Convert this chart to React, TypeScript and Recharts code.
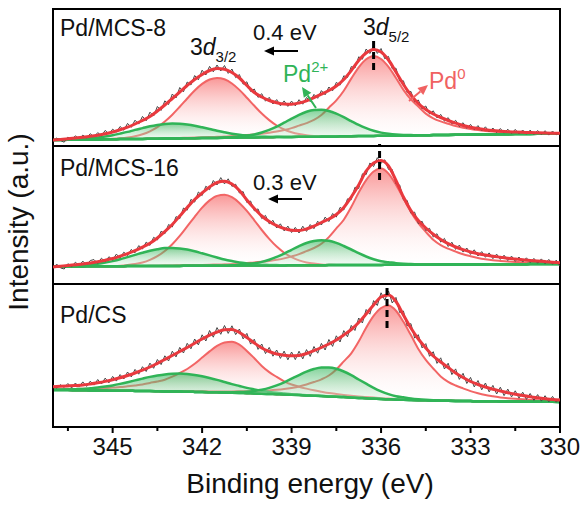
import {Area, ComposedChart, Line, ReferenceArea, ReferenceLine, XAxis, YAxis} from "recharts";

const FONT = "'Liberation Sans', Arial, sans-serif";

// binding energy grid of the fitted curves (eV)
const energy = [347, 346.75, 346.5, 346.25, 346, 345.75, 345.5, 345.25, 345, 344.75,
    344.5, 344.25, 344, 343.75, 343.5, 343.25, 343, 342.75, 342.5, 342.25,
    342, 341.75, 341.5, 341.25, 341, 340.75, 340.5, 340.25, 340, 339.75,
    339.5, 339.25, 339, 338.75, 338.5, 338.25, 338, 337.75, 337.5, 337.25,
    337, 336.75, 336.5, 336.25, 336, 335.75, 335.5, 335.25, 335, 334.75,
    334.5, 334.25, 334, 333.75, 333.5, 333.25, 333, 332.75, 332.5, 332.25,
    332, 331.75, 331.5, 331.25, 331, 330.75, 330.5, 330.25, 330];

// binding energy grid of the measured spectra (eV)
const rawEnergy = [347, 346.875, 346.75, 346.625, 346.5, 346.375, 346.25, 346.125, 346, 345.875,
    345.75, 345.625, 345.5, 345.375, 345.25, 345.125, 345, 344.875, 344.75, 344.625,
    344.5, 344.375, 344.25, 344.125, 344, 343.875, 343.75, 343.625, 343.5, 343.375,
    343.25, 343.125, 343, 342.875, 342.75, 342.625, 342.5, 342.375, 342.25, 342.125,
    342, 341.875, 341.75, 341.625, 341.5, 341.375, 341.25, 341.125, 341, 340.875,
    340.75, 340.625, 340.5, 340.375, 340.25, 340.125, 340, 339.875, 339.75, 339.625,
    339.5, 339.375, 339.25, 339.125, 339, 338.875, 338.75, 338.625, 338.5, 338.375,
    338.25, 338.125, 338, 337.875, 337.75, 337.625, 337.5, 337.375, 337.25, 337.125,
    337, 336.875, 336.75, 336.625, 336.5, 336.375, 336.25, 336.125, 336, 335.875,
    335.75, 335.625, 335.5, 335.375, 335.25, 335.125, 335, 334.875, 334.75, 334.625,
    334.5, 334.375, 334.25, 334.125, 334, 333.875, 333.75, 333.625, 333.5, 333.375,
    333.25, 333.125, 333, 332.875, 332.75, 332.625, 332.5, 332.375, 332.25, 332.125,
    332, 331.875, 331.75, 331.625, 331.5, 331.375, 331.25, 331.125, 331, 330.875,
    330.75, 330.625, 330.5, 330.375, 330.25, 330.125, 330];

const majorTicks = [345, 342, 339, 336, 333, 330];
const minorTicks = [346.5, 343.5, 340.5, 337.5, 334.5, 331.5];

// ---- Pd/MCS-8 ----
const mcs8Raw = [4.5, 8.0, 5.5, 3.8, 8.9, 6.4, 10.2, 7.1, 10.9, 8.0,
    12.3, 9.1, 13.4, 10.2, 15.6, 12.0, 16.8, 13.9, 19.5, 15.8,
    22.6, 18.7, 25.8, 21.9, 29.6, 25.2, 33.8, 30.0, 39.5, 35.6,
    45.2, 41.5, 52.0, 48.0, 58.5, 54.2, 64.0, 61.0, 70.5, 66.2,
    75.8, 71.0, 79.6, 74.2, 81.0, 75.0, 80.5, 72.6, 77.0, 68.4,
    71.5, 61.8, 64.2, 54.5, 57.0, 48.6, 52.3, 44.8, 48.7, 42.0,
    46.4, 40.2, 45.1, 39.6, 44.9, 40.1, 46.3, 41.8, 48.5, 44.3,
    51.6, 47.7, 55.4, 51.2, 59.0, 55.2, 63.6, 60.8, 70.2, 68.5,
    79.4, 78.0, 89.2, 86.8, 97.0, 92.5, 99.8, 92.6, 97.5, 87.2,
    89.6, 77.3, 77.8, 65.0, 65.2, 53.6, 54.6, 44.2, 46.0, 37.2,
    40.0, 32.0, 35.2, 28.1, 31.6, 24.9, 28.4, 22.2, 25.7, 19.6,
    23.3, 17.7, 21.6, 16.3, 20.4, 15.0, 19.2, 14.0, 18.0, 13.4,
    17.5, 12.9, 16.8, 12.5, 16.6, 12.2, 16.0, 11.8, 15.9, 11.6,
    15.5, 11.4, 15.3, 10.9, 15.0, 11.2, 14.1];
const mcs8Fit = [6.0, 6.6, 7.2, 8.0, 8.8, 9.7, 10.8, 12.2, 14.0, 16.2,
    18.8, 22.0, 25.5, 29.5, 35.0, 41.0, 47.5, 54.0, 60.5, 66.5,
    71.5, 75.5, 77.5, 76.8, 73.5, 68.0, 60.5, 53.5, 49.0, 45.5,
    43.3, 42.0, 41.8, 43.0, 45.2, 48.3, 51.8, 55.5, 60.0, 66.5,
    75.5, 85.5, 93.0, 96.5, 94.0, 86.0, 74.0, 61.5, 51.0, 42.5,
    36.5, 32.0, 28.5, 25.5, 22.8, 20.5, 18.8, 17.5, 16.3, 15.4,
    14.8, 14.3, 14.0, 13.7, 13.4, 13.2, 13.0, 12.8, 12.7];
const mcs8Bg = [6.0, 6.1, 6.2, 6.3, 6.4, 6.5, 6.6, 6.7, 6.8, 6.9,
    7.0, 7.1, 7.1, 7.2, 7.3, 7.4, 7.5, 7.6, 7.7, 7.8,
    7.9, 8.0, 8.1, 8.2, 8.3, 8.4, 8.5, 8.6, 8.7, 8.8,
    8.9, 9.0, 9.1, 9.2, 9.3, 9.3, 9.4, 9.5, 9.6, 9.7,
    9.8, 9.9, 10.0, 10.1, 10.2, 10.3, 10.4, 10.5, 10.6, 10.7,
    10.8, 10.9, 11.0, 11.1, 11.2, 11.3, 11.4, 11.4, 11.5, 11.6,
    11.7, 11.8, 11.9, 12.0, 12.1, 12.2, 12.3, 12.4, 12.5];
const mcs8Pd0a = [0, 0, 0, 0, 0, 0, 0, 0, 0, 0,
    0, 0, 0, 0, 0, 0.2, 0.35, 0.45, 0.55, 0.64,
    0.75, 0.9, 1.1, 1.3, 1.6, 2.0, 2.4, 2.9, 3.6, 4.5,
    5.6, 7.0, 8.8, 11.2, 13.6, 16.8, 21.6, 28.8, 36, 45.6,
    57.6, 68.8, 76.8, 80, 76.8, 68.8, 57.6, 45.6, 36, 28.8,
    21.6, 16.8, 13.6, 11.2, 8.8, 7.0, 5.6, 4.5, 3.6, 2.9,
    2.4, 2.0, 1.6, 1.3, 1.1, 0.9, 0.75, 0.64, 0.55];
const mcs8Pd0b = [0, 0, 0, 0, 0, 0, 0.1, 0.2, 0.4, 0.8,
    1.5, 2.7, 4.6, 7.5, 11.6, 17.1, 23.8, 31.6, 39.8, 47.7,
    54.2, 58.5, 60, 58.5, 54.2, 47.7, 39.8, 31.6, 23.8, 17.1,
    11.6, 7.5, 4.6, 2.7, 1.5, 0.8, 0.4, 0.2, 0.1, 0,
    0, 0, 0, 0, 0, 0, 0, 0, 0, 0,
    0, 0, 0, 0, 0, 0, 0, 0, 0, 0,
    0, 0, 0, 0, 0, 0, 0, 0, 0];
const mcs8Pd2a = [0, 0, 0, 0, 0, 0, 0, 0, 0, 0,
    0, 0, 0, 0, 0, 0, 0, 0, 0, 0,
    0, 0, 0, 0.2, 0.5, 0.9, 1.7, 2.9, 4.8, 7.3,
    10.5, 14.3, 18.3, 22.0, 25.0, 26.7, 26.9, 25.5, 22.7, 19.1,
    15.1, 11.2, 7.9, 5.2, 3.2, 1.9, 1.0, 0.5, 0.3, 0,
    0, 0, 0, 0, 0, 0, 0, 0, 0, 0,
    0, 0, 0, 0, 0, 0, 0, 0, 0];
const mcs8Pd2b = [0, 0.1, 0.3, 0.5, 0.8, 1.2, 1.9, 2.8, 4.0, 5.5,
    7.1, 9.0, 10.8, 12.5, 13.8, 14.7, 15, 14.7, 13.8, 12.5,
    10.8, 9.0, 7.1, 5.5, 4.0, 2.8, 1.9, 1.2, 0.8, 0.5,
    0.3, 0.1, 0, 0, 0, 0, 0, 0, 0, 0,
    0, 0, 0, 0, 0, 0, 0, 0, 0, 0,
    0, 0, 0, 0, 0, 0, 0, 0, 0, 0,
    0, 0, 0, 0, 0, 0, 0, 0, 0];

// ---- Pd/MCS-16 ----
const mcs16Raw = [15.8, 19.9, 16.1, 15.0, 20.3, 17.2, 21.8, 18.4, 22.9, 19.0,
    23.5, 24.4, 20.6, 25.8, 22.1, 27.3, 24.0, 29.9, 26.0, 31.8,
    28.5, 34.6, 31.2, 38.4, 35.0, 41.9, 38.6, 46.7, 44.0, 52.8,
    50.2, 59.5, 57.0, 67.4, 65.3, 76.0, 73.8, 84.6, 81.9, 92.0,
    88.4, 97.8, 94.3, 103.5, 99.0, 106.4, 100.1, 105.2, 97.6, 99.8,
    91.0, 92.4, 81.5, 83.0, 73.2, 75.1, 65.4, 68.6, 60.1, 63.7,
    56.0, 60.2, 53.1, 57.9, 51.5, 56.6, 51.0, 57.8, 52.6, 59.4,
    55.3, 62.8, 59.0, 66.9, 62.4, 70.5, 67.0, 76.6, 74.0, 85.2,
    84.3, 96.8, 95.5, 110.2, 109.4, 121.0, 117.5, 126.3, 120.8, 124.2,
    114.6, 114.5, 100.2, 99.0, 84.1, 83.6, 70.8, 71.9, 60.5, 62.8,
    53.4, 55.7, 47.0, 50.3, 41.9, 45.6, 37.5, 41.8, 34.6, 38.9,
    31.9, 36.0, 29.6, 34.2, 28.0, 32.4, 26.7, 31.1, 25.3, 29.9,
    24.6, 28.8, 23.5, 27.9, 22.7, 27.0, 21.9, 26.2, 21.5, 25.6,
    20.8, 25.1, 20.3, 24.6, 19.7, 23.9, 17.6];
const mcs16Fit = [17.0, 17.8, 18.6, 19.3, 20.0, 21.0, 22.2, 23.8, 25.5, 27.8,
    30.3, 33.3, 36.8, 40.7, 46.0, 52.5, 59.5, 68.0, 76.5, 84.5,
    91.0, 97.0, 101.5, 102.8, 100.0, 93.5, 84.0, 75.5, 68.0, 62.5,
    58.3, 55.5, 53.8, 53.5, 55.0, 57.8, 61.5, 65.0, 69.5, 76.5,
    87.0, 99.0, 113.0, 121.0, 123.5, 118.0, 103.5, 87.0, 73.5, 63.5,
    56.0, 49.8, 44.5, 40.3, 37.0, 34.3, 32.0, 30.3, 29.0, 27.8,
    26.8, 25.8, 25.0, 24.2, 23.6, 23.0, 22.4, 21.8, 21.3];
const mcs16Bg = [17.5, 17.5, 17.6, 17.6, 17.6, 17.7, 17.7, 17.8, 17.8, 17.8,
    17.9, 17.9, 17.9, 18.0, 18.0, 18.1, 18.1, 18.1, 18.2, 18.2,
    18.2, 18.3, 18.3, 18.3, 18.4, 18.4, 18.5, 18.5, 18.5, 18.6,
    18.6, 18.6, 18.7, 18.7, 18.8, 18.8, 18.8, 18.9, 18.9, 18.9,
    19.0, 19.0, 19.0, 19.1, 19.1, 19.2, 19.2, 19.2, 19.3, 19.3,
    19.3, 19.4, 19.4, 19.5, 19.5, 19.5, 19.6, 19.6, 19.6, 19.7,
    19.7, 19.7, 19.8, 19.8, 19.9, 19.9, 19.9, 20.0, 20.0];
const mcs16Pd0a = [0, 0, 0, 0, 0, 0, 0, 0, 0, 0,
    0, 0, 0.1, 0.2, 0.3, 0.4, 0.5, 0.6, 0.7, 0.8,
    0.9, 1.0, 1.2, 1.4, 1.6, 2.0, 2.5, 3.0, 3.7, 4.5,
    5.6, 7.0, 8.9, 11.2, 14.1, 17.2, 21.4, 28.0, 36.7, 45.4,
    57.9, 72.4, 84.9, 93.4, 96.3, 91.2, 80.1, 66.6, 52.7, 41.5,
    32.8, 24.9, 19.5, 15.8, 12.9, 10.2, 8.2, 6.5, 5.2, 4.1,
    3.4, 2.8, 2.3, 1.8, 1.5, 1.3, 1.1, 0.9, 0.8];
const mcs16Pd0b = [0, 0, 0, 0, 0, 0, 0, 0, 0.2, 0.5,
    1.1, 2.0, 3.6, 6.1, 9.8, 14.9, 21.7, 30.0, 39.4, 49.0,
    58.1, 65.3, 69.8, 70.9, 68.4, 62.7, 54.6, 45.2, 35.5, 26.5,
    18.8, 12.7, 8.1, 4.9, 2.8, 1.6, 0.8, 0.4, 0.2, 0,
    0, 0, 0, 0, 0, 0, 0, 0, 0, 0,
    0, 0, 0, 0, 0, 0, 0, 0, 0, 0,
    0, 0, 0, 0, 0, 0, 0, 0, 0];
const mcs16Pd2a = [0, 0, 0, 0, 0, 0, 0, 0, 0, 0,
    0, 0, 0, 0, 0, 0, 0, 0, 0, 0,
    0, 0, 0, 0, 0.3, 0.7, 1.2, 2.2, 3.6, 5.7,
    8.5, 11.8, 15.5, 19.1, 22.2, 24.3, 25.0, 24.3, 22.2, 19.1,
    15.5, 11.8, 8.5, 5.7, 3.6, 2.6, 1.6, 1.0, 0.6, 0.3,
    0.1, 0, 0, 0, 0, 0, 0, 0, 0, 0,
    0, 0, 0, 0, 0, 0, 0, 0, 0];
const mcs16Pd2b = [0, 0.1, 0.3, 0.6, 1.0, 1.6, 2.5, 3.6, 5.1, 6.9,
    9.0, 11.2, 13.4, 15.3, 16.8, 17.8, 18.0, 17.5, 16.3, 14.6,
    12.5, 10.3, 8.2, 6.2, 4.5, 3.1, 2.1, 1.4, 0.8, 0.5,
    0.3, 0, 0, 0, 0, 0, 0, 0, 0, 0,
    0, 0, 0, 0, 0, 0, 0, 0, 0, 0,
    0, 0, 0, 0, 0, 0, 0, 0, 0, 0,
    0, 0, 0, 0, 0, 0, 0, 0, 0];

// ---- Pd/CS ----
const csRaw = [42.0, 38.9, 42.3, 39.6, 43.5, 39.0, 44.0, 40.2, 45.1, 40.6,
    45.8, 41.9, 47.5, 43.0, 48.9, 44.1, 50.6, 45.9, 52.4, 48.0,
    55.0, 50.1, 57.6, 52.8, 60.3, 55.5, 63.9, 58.7, 67.5, 62.4,
    71.2, 66.0, 75.8, 70.1, 79.6, 74.0, 83.7, 78.2, 88.0, 82.1,
    92.2, 86.0, 96.5, 89.8, 99.4, 92.7, 101.5, 93.6, 101.2, 92.4,
    98.0, 88.1, 93.6, 82.9, 87.8, 77.6, 83.0, 73.4, 79.6, 70.8,
    77.0, 68.6, 75.9, 67.2, 75.0, 67.4, 75.8, 68.1, 77.4, 70.6,
    80.5, 73.8, 83.6, 77.0, 87.5, 80.6, 91.2, 85.0, 96.4, 90.2,
    101.6, 96.5, 109.0, 104.0, 117.5, 112.8, 126.4, 121.5, 134.2, 126.8,
    136.0, 124.0, 129.6, 114.3, 116.0, 101.2, 103.4, 89.0, 92.3, 79.1,
    83.4, 70.7, 75.3, 63.6, 69.2, 58.0, 63.8, 52.4, 58.1, 47.6,
    53.7, 43.5, 49.6, 40.1, 46.5, 37.2, 44.0, 35.1, 41.6, 33.0,
    39.8, 31.4, 37.9, 30.1, 36.2, 28.9, 34.8, 27.6, 33.5, 26.7,
    32.4, 25.9, 31.3, 25.2, 30.6, 24.8, 29.3];
const csFit = [40.3, 40.7, 41.1, 41.5, 42.0, 43.0, 44.2, 45.6, 47.3, 49.2,
    51.5, 54.0, 56.8, 60.0, 63.7, 67.5, 71.5, 75.5, 79.5, 83.8,
    88.0, 91.8, 95.0, 97.3, 97.5, 94.5, 89.5, 84.0, 79.0, 75.5,
    73.0, 71.8, 71.2, 71.5, 73.5, 76.3, 79.5, 83.0, 87.0, 92.0,
    97.5, 104.5, 113.0, 122.0, 130.0, 132.0, 125.5, 112.0, 99.0, 88.0,
    79.0, 71.0, 65.0, 59.5, 54.0, 49.5, 45.5, 42.5, 40.0, 37.8,
    36.0, 34.3, 32.8, 31.4, 30.2, 29.2, 28.3, 27.5, 26.9];
const csBg = [37.0, 36.9, 36.9, 36.8, 36.7, 36.6, 36.5, 36.4, 36.3, 36.2,
    36.2, 36.1, 36.0, 35.9, 35.8, 35.6, 35.5, 35.4, 35.3, 35.1,
    35.0, 34.8, 34.7, 34.5, 34.3, 34.1, 33.8, 33.6, 33.3, 33.0,
    32.8, 32.5, 32.2, 31.9, 31.6, 31.3, 31.0, 30.6, 30.3, 29.9,
    29.5, 29.1, 28.8, 28.4, 28.0, 27.7, 27.5, 27.2, 27.0, 26.8,
    26.7, 26.5, 26.3, 26.2, 26.1, 26.0, 25.9, 25.8, 25.8, 25.7,
    25.6, 25.5, 25.5, 25.4, 25.3, 25.3, 25.2, 25.2, 25.1];
const csPd0a = [0, 0, 0, 0, 0, 0, 0, 0, 0, 0,
    0, 0, 0, 0, 0.1, 0.2, 0.3, 0.4, 0.5, 0.6,
    0.7, 0.8, 0.9, 1.1, 1.3, 1.6, 2.0, 2.4, 2.9, 3.6,
    4.4, 5.5, 6.9, 8.6, 10.9, 13.7, 16.7, 20.9, 27.3, 35.7,
    44.2, 56.4, 70.5, 82.7, 91.0, 93.8, 88.8, 78.0, 64.9, 51.3,
    40.4, 32.0, 24.3, 19.0, 15.4, 12.6, 10.0, 8.0, 6.3, 5.1,
    4.0, 3.3, 2.7, 2.3, 1.8, 1.5, 1.2, 1.0, 0.9];
const csPd0b = [0.8, 0.9, 1.0, 1.3, 1.5, 1.7, 2.1, 2.5, 3.1, 3.7,
    4.5, 5.5, 6.6, 8.2, 9.7, 11.7, 14.8, 18.6, 22.7, 28.1,
    34.4, 40.8, 46.4, 50.0, 50.9, 48.2, 42.3, 35.2, 27.8, 21.9,
    17.3, 13.2, 10.3, 8.4, 6.8, 5.4, 4.3, 3.4, 2.7, 2.2,
    1.8, 1.5, 1.2, 1.0, 0.8, 0.7, 0.6, 0.5, 0.4, 0.35,
    0.3, 0.25, 0.2, 0.15, 0.1, 0, 0, 0, 0, 0,
    0, 0, 0, 0, 0, 0, 0, 0, 0];
const csPd2a = [0, 0, 0, 0, 0, 0, 0, 0, 0, 0,
    0, 0, 0, 0, 0, 0, 0, 0, 0, 0,
    0, 0, 0, 0, 0.4, 0.8, 1.5, 2.5, 4.0, 6.1,
    8.9, 12.2, 16.1, 20.0, 23.7, 26.7, 28.5, 29.0, 28.0, 25.6,
    22.3, 18.4, 14.5, 10.8, 7.7, 5.2, 3.3, 2.5, 1.6, 1.0,
    0.5, 0.2, 0, 0, 0, 0, 0, 0, 0, 0,
    0, 0, 0, 0, 0, 0, 0, 0, 0];
const csPd2b = [0.2, 0.4, 0.6, 1.0, 1.4, 2.1, 2.9, 4.0, 5.3, 6.9,
    8.6, 10.5, 12.4, 14.2, 15.7, 17.0, 17.7, 18.0, 17.7, 17.0,
    15.7, 14.2, 12.4, 10.5, 8.6, 6.9, 5.3, 4.0, 2.9, 2.1,
    1.4, 1.0, 0.6, 0.4, 0.2, 0, 0, 0, 0, 0,
    0, 0, 0, 0, 0, 0, 0, 0, 0, 0,
    0, 0, 0, 0, 0, 0, 0, 0, 0, 0,
    0, 0, 0, 0, 0, 0, 0, 0, 0];

// y handed to a custom tick = axis line + tickSize(6) + tickMargin(2)
const AxisTick = (props: any) => {
    const {x, y, payload} = props;
    const base = y - 8;
    const major = majorTicks.includes(payload.value);
    return (
        <g>
            <line x1={x} y1={base} x2={x} y2={base + (major ? 6 : 4)} stroke="#000" strokeWidth={2}/>
            {major && (
                <text x={x} y={base + 28} textAnchor="middle" fontSize={24} fill="#111" fontFamily={FONT}>
                    {payload.value}
                </text>
            )}
        </g>
    );
};

const Panel = ({id, top, height, raw, fit, bg, pd0a, pd0b, pd2a, pd2b, peak, dash, showAxis}: any) => {
    const data = energy.map((e, i) => ({
        e,
        fit: fit[i],
        r32: [bg[i], bg[i] + pd0b[i]],
        r52: [bg[i], bg[i] + pd0a[i]],
        g32: [bg[i], bg[i] + pd2b[i]],
        g52: [bg[i], bg[i] + pd2a[i]],
    }));
    const rawData = rawEnergy.map((e, i) => ({e, raw: raw[i]}));
    const axisH = showAxis ? 30 : 0;
    return (
        <div style={{position: "absolute", left: 0, top: 0}}>
            <ComposedChart width={588} height={510} data={data}
                           margin={{top, right: 28, left: 53, bottom: 510 - top - height - axisH}}>
                <defs>
                    <linearGradient id={`red-${id}`} x1="0" y1="0" x2="0" y2="1">
                        <stop offset="0%" stopColor="#f54848" stopOpacity={0.95}/>
                        <stop offset="100%" stopColor="#ffffff" stopOpacity={0.1}/>
                    </linearGradient>
                    <linearGradient id={`green-${id}`} x1="0" y1="0" x2="0" y2="1">
                        <stop offset="0%" stopColor="#25b04e" stopOpacity={0.95}/>
                        <stop offset="100%" stopColor="#e6f7ea" stopOpacity={0.5}/>
                    </linearGradient>
                </defs>
                <XAxis dataKey="e" type="number" domain={[330, 347]} reversed allowDataOverflow
                       hide={!showAxis} height={axisH} ticks={[...minorTicks, ...majorTicks]} interval={0}
                       axisLine={false} tickLine={false} tick={(p: any) => <AxisTick {...p}/>}/>
                <YAxis type="number" domain={[0, height]} hide allowDataOverflow/>
                <Area type="monotone" dataKey="r32" stroke="#f26565" strokeWidth={2} fill={`url(#red-${id})`}
                      isAnimationActive={false}/>
                <Area type="monotone" dataKey="r52" stroke="#f26565" strokeWidth={2} fill={`url(#red-${id})`}
                      isAnimationActive={false}/>
                <Area type="monotone" dataKey="g32" stroke="#30b457" strokeWidth={2.5} fill={`url(#green-${id})`}
                      isAnimationActive={false}/>
                <Area type="monotone" dataKey="g52" stroke="#30b457" strokeWidth={2.5} fill={`url(#green-${id})`}
                      isAnimationActive={false}/>
                <Line data={rawData} type="linear" dataKey="raw" stroke="#454545" strokeWidth={1} dot={false}
                      activeDot={false} isAnimationActive={false}/>
                <Line type="monotone" dataKey="fit" stroke="#e9393e" strokeWidth={3} dot={false} activeDot={false}
                      isAnimationActive={false}/>
                <ReferenceLine segment={[{x: peak, y: dash[0]}, {x: peak, y: dash[1]}]} stroke="#000"
                               strokeWidth={3} strokeDasharray="7 4" ifOverflow="visible"/>
                <ReferenceArea x1={347} x2={330} y1={0} y2={height} fill="none" stroke="#000" strokeWidth={2}
                               ifOverflow="visible"/>
            </ComposedChart>
        </div>
    );
};

const Arrow = ({x1, y1, x2, y2, color}: any) => {
    const a = Math.atan2(y2 - y1, x2 - x1);
    const l = 10, w = 4.5;
    const bx = x2 - l * Math.cos(a), by = y2 - l * Math.sin(a);
    const px = -Math.sin(a) * w, py = Math.cos(a) * w;
    return (
        <g>
            <line x1={x1} y1={y1} x2={bx} y2={by} stroke={color} strokeWidth={2}/>
            <polygon points={`${x2},${y2} ${bx + px},${by + py} ${bx - px},${by - py}`} fill={color}/>
        </g>
    );
};

export default function App() {
    return (
        <div style={{position: "absolute", left: 0, top: 0, width: 588, height: 510, background: "#fff"}}>
            <Panel id="a" top={9} height={137} raw={mcs8Raw} fit={mcs8Fit} bg={mcs8Bg} pd0a={mcs8Pd0a}
                   pd0b={mcs8Pd0b} pd2a={mcs8Pd2a} pd2b={mcs8Pd2b} peak={336.25} dash={[76, 106]}/>
            <Panel id="b" top={146} height={138} raw={mcs16Raw} fit={mcs16Fit} bg={mcs16Bg} pd0a={mcs16Pd0a}
                   pd0b={mcs16Pd0b} pd2a={mcs16Pd2a} pd2b={mcs16Pd2b} peak={336.05} dash={[104, 140]}/>
            <Panel id="c" top={284} height={143} raw={csRaw} fit={csFit} bg={csBg} pd0a={csPd0a}
                   pd0b={csPd0b} pd2a={csPd2a} pd2b={csPd2b} peak={335.8} dash={[99, 141]} showAxis/>
            <svg width={588} height={510} style={{position: "absolute", left: 0, top: 0}} fontFamily={FONT}>
                <text x={60} y={36} fontSize={23} fill="#111">Pd/MCS-8</text>
                <text x={60} y={176} fontSize={23} fill="#111">Pd/MCS-16</text>
                <text x={60} y={323} fontSize={23} fill="#111">Pd/CS</text>

                <text x={253} y={40} fontSize={22} fill="#111">0.4 eV</text>
                <Arrow x1={298} y1={51} x2={264} y2={51} color="#000"/>
                <text x={253} y={190} fontSize={22} fill="#111">0.3 eV</text>
                <Arrow x1={302} y1={199} x2={268} y2={199} color="#000"/>

                <text x={190} y={55} fontSize={23} fill="#111">3<tspan fontStyle="italic">d</tspan><tspan
                    fontSize={15} dy={7}>3/2</tspan></text>
                <text x={363} y={35} fontSize={23} fill="#111">3<tspan fontStyle="italic">d</tspan><tspan
                    fontSize={15} dy={7}>5/2</tspan></text>

                <text x={283} y={82} fontSize={23} fill="#30b457">Pd<tspan fontSize={15} dy={-10}>2+</tspan></text>
                <Arrow x1={316} y1={108} x2={302} y2={87} color="#30b457"/>
                <text x={429} y={89} fontSize={23} fill="#f06262">Pd<tspan fontSize={15} dy={-10}>0</tspan></text>
                <Arrow x1={409} y1={101} x2={428} y2={85} color="#f06262"/>

                <text transform="translate(28,222) rotate(-90)" textAnchor="middle" fontSize={28}
                      fill="#111">Intensity (a.u.)</text>
                <text x={310} y={493} textAnchor="middle" fontSize={28} fill="#111">Binding energy (eV)</text>
            </svg>
        </div>
    );
}
